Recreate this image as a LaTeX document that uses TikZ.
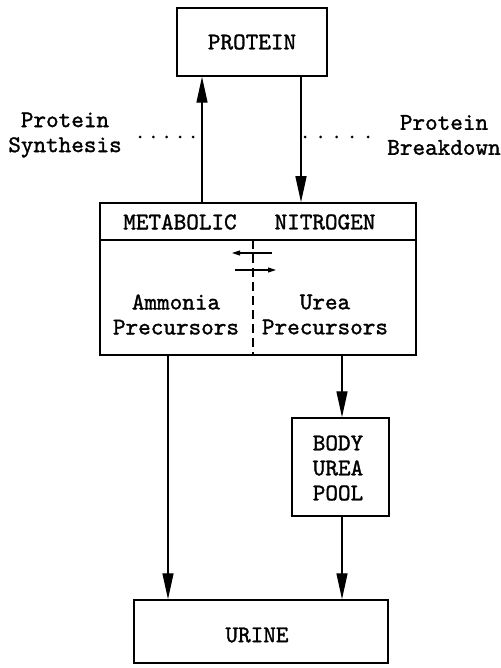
\documentclass[tikz,border=0pt]{standalone}
\usepackage{fontspec}
\setmonofont{lmmono10-regular}[Extension=.otf, FakeBold=1.3]
\usetikzlibrary{arrows.meta}
\begin{document}
\begin{tikzpicture}[x=1pt,y=-1pt,
  txt/.style={font=\ttfamily\fontsize{24}{25}\selectfont, align=center, inner sep=0pt},
  box/.style={draw, line width=1.5pt, rectangle, inner sep=0pt},
  arr/.style={line width=1.4pt, -{Triangle[length=26pt,width=11pt]}},
  sarr/.style={line width=1.1pt, -{Triangle[length=8pt,width=5pt]}},
  dot/.style={fill, circle, inner sep=0pt, minimum size=3pt}]
\useasboundingbox (0,0) rectangle (500,668);
% boxes
\node[box, minimum width=150pt, minimum height=68pt] (protein) at (252,42) {};
\node[txt] (proteinT) at (252,42) {PROTEIN};
\node[box, minimum width=316pt, minimum height=152pt] (met) at (258,279) {};
\node[box, minimum width=97pt, minimum height=98pt] (pool) at (340.5,467) {};
\node[box, minimum width=254pt, minimum height=63pt] (urine) at (261,631.5) {};
% header line and dashed divider
\coordinate (hl) at (100,240);
\coordinate (hr) at (416,240);
\draw[line width=1.5pt] (hl) -- (hr);
\coordinate (dtop) at (253,240);
\coordinate (dbot) at (253,355);
\draw[line width=1.4pt, dash pattern=on 9pt off 5pt] (dtop) -- (dbot);
% texts
\node[txt] (metT) at (180,222) {METABOLIC};
\node[txt] (nitT) at (325,222) {NITROGEN};
\node[txt] (amm) at (176,314.5) {Ammonia\\Precursors};
\node[txt] (urea) at (325,314.5) {Urea\\Precursors};
\node[txt] (poolT) at (338,468) {BODY\\UREA\\POOL};
\node[txt] (urineT) at (257,635) {URINE};
\node[txt] (syn) at (65,135) {Protein\\Synthesis};
\node[txt] (brk) at (444,135) {Protein\\Breakdown};
% main arrows
\coordinate (xs) at (202,0);
\coordinate (xb) at (301,0);
\coordinate (xa) at (168,0);
\coordinate (xu) at (342,0);
\draw[arr] (met.north -| xs) -- (protein.south -| xs);
\draw[arr] (protein.south -| xb) -- (met.north -| xb);
\draw[arr] (met.south -| xa) -- (urine.north -| xa);
\draw[arr] (met.south -| xu) -- (pool.north -| xu);
\draw[arr] (pool.south -| xu) -- (urine.north -| xu);
% small exchange arrows
\coordinate (a1s) at (272,253);
\coordinate (a1e) at (232,253);
\coordinate (a2s) at (235,270);
\coordinate (a2e) at (276,270);
\draw[sarr] (a1s) -- (a1e);
\draw[sarr] (a2s) -- (a2e);
% dotted leaders
\foreach \x in {140,153.3,166.6,180,193} \node[dot] at (\x,137) {};
\foreach \x in {305,320.7,336.5,352.2,368} \node[dot] at (\x,137) {};
\end{tikzpicture}
\end{document}
